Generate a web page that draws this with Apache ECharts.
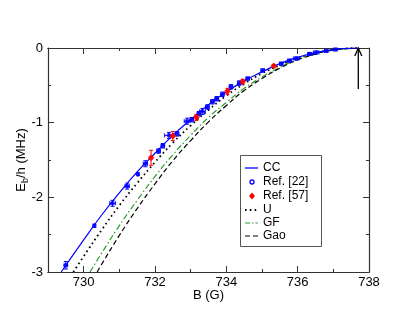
<!DOCTYPE html>
<html>
<head>
<meta charset="utf-8">
<script src="https://cdn.jsdelivr.net/npm/echarts@6/dist/echarts.min.js"></script>
<style>html,body{margin:0;padding:0;background:#fff}#c{width:415px;height:321px}</style>
</head>
<body>
<div id="c"></div>
<script>
// Curves (B in G, Eb/h in MHz)
const ccB  = [729.37,730.0,730.5,731.0,731.5,732.0,732.5,733.0,733.5,734.0,734.5,735.0,735.5,736.0,736.5,737.0,737.4,737.7];
const ccE  = [-3.00,-2.57,-2.24,-1.94,-1.66,-1.41,-1.17,-0.96,-0.76,-0.59,-0.44,-0.32,-0.21,-0.125,-0.062,-0.021,-0.004,0];
const uB   = [729.71,730.0,730.5,731.0,731.5,732.0,732.5,733.0,733.5,734.0,734.5,735.0,735.5,736.0,736.5,737.0,737.7];
const uE   = [-3.00,-2.79,-2.44,-2.11,-1.81,-1.53,-1.27,-1.04,-0.83,-0.64,-0.48,-0.34,-0.23,-0.136,-0.068,-0.023,0];
const gfB  = [730.18,730.5,731.0,731.5,732.0,732.5,733.0,733.5,734.0,734.5,735.0,735.5,736.0,736.5,737.0,737.7];
const gfE  = [-3.00,-2.75,-2.38,-2.04,-1.72,-1.43,-1.17,-0.93,-0.73,-0.54,-0.39,-0.26,-0.15,-0.076,-0.026,0];
const gaoB = [730.38,730.5,731.0,731.5,732.0,732.5,733.0,733.5,734.0,734.5,735.0,735.5,736.0,736.5,737.0,737.7];
const gaoE = [-3.00,-2.90,-2.51,-2.15,-1.82,-1.51,-1.24,-0.99,-0.77,-0.57,-0.41,-0.27,-0.16,-0.081,-0.027,0];

// Ref. [22] data
const blueB    = [729.5,730.3,730.81,731.22,731.52,731.73,732.1,732.22,732.39,732.62,732.9,733.03,733.23,733.33,733.47,733.61,733.73,733.89,734.13,734.36,734.6,735.02,735.54,735.77,735.96,736.33,736.52,736.8,737.06];
const blueE    = [-2.91,-2.38,-2.08,-1.85,-1.69,-1.55,-1.38,-1.31,-1.17,-1.15,-0.98,-0.96,-0.88,-0.85,-0.79,-0.72,-0.68,-0.62,-0.52,-0.47,-0.41,-0.30,-0.21,-0.17,-0.14,-0.08,-0.06,-0.04,-0.02];
const blueErrE = [0.05,0.02,0.04,0.04,0.02,0.04,0.03,0.03,0.04,0.03,0.04,0.03,0.03,0.04,0.03,0.03,0.03,0.03,0.03,0.03,0.02,0.02,0.02,0.02,0.02,0.02,0.02,0.01,0.01];
const blueErrB = [0.05,0.02,0.08,0.06,0.02,0.06,0.05,0.05,0.12,0.05,0.08,0.05,0.05,0.08,0.05,0.05,0.05,0.05,0.05,0.05,0.05,0.05,0.05,0.05,0.08,0.05,0.08,0.05,0.05];
// Ref. [57] data
const redB    = [731.89,732.5,733.16,734.03,734.46,735.33];
const redE    = [-1.47,-1.18,-0.93,-0.58,-0.45,-0.24];
const redErrE = [0.10,0.06,0.04,0.04,0.03,0.02];
const redErrB = [0.03,0.03,0.03,0.03,0.03,0.03];

// Resonance arrow
const arrowB = 737.7;
const arrowFrom = -0.55;

// Tick labels
const xMajor = [730,732,734,736,738];
const xMinor = [731,733,735,737];
const legendNames = ['CC','Ref. [22]','Ref. [57]','U','GF','Gao'];

const zip = (a,b) => a.map((v,i)=>[v,b[i]]);
const zip4 = (a,b,c,d) => a.map((v,i)=>[v,b[i],c[i],d[i]]);

function errRender(color){
  return function(params, api){
    const x = api.value(0), y = api.value(1), ey = api.value(2), ex = api.value(3);
    const top = api.coord([x, y+ey]), bot = api.coord([x, y-ey]);
    const lft = api.coord([x-ex, y]), rgt = api.coord([x+ex, y]);
    const c = 2;
    const st = {stroke: color, lineWidth: 1};
    return {type:'group', children:[
      {type:'line', shape:{x1:top[0],y1:top[1],x2:bot[0],y2:bot[1]}, style:st},
      {type:'line', shape:{x1:top[0]-c,y1:top[1],x2:top[0]+c,y2:top[1]}, style:st},
      {type:'line', shape:{x1:bot[0]-c,y1:bot[1],x2:bot[0]+c,y2:bot[1]}, style:st},
      {type:'line', shape:{x1:lft[0],y1:lft[1],x2:rgt[0],y2:rgt[1]}, style:st},
      {type:'line', shape:{x1:lft[0],y1:lft[1]-c,x2:lft[0],y2:lft[1]+c}, style:st},
      {type:'line', shape:{x1:rgt[0],y1:rgt[1]-c,x2:rgt[0],y2:rgt[1]+c}, style:st}
    ]};
  };
}

const axisLine = {show:true, onZero:false, lineStyle:{color:'#333', width:1.2}};
const FONT = 'Liberation Sans, Arial, sans-serif';
const GREEN = '#2a9d2a';

// Legend drawn as graphic (box + icons + text)
const LX = 240, LY = 155, LW = 81, LH = 91;
const rowY = [168,182,196,210,223,236];
const legendGraphic = [
  {type:'rect', shape:{x:LX+0.5,y:LY+0.5,width:LW,height:LH}, style:{fill:'#fff', stroke:'#555', lineWidth:1}, z:100},
  {type:'line', shape:{x1:245,y1:rowY[0],x2:258,y2:rowY[0]}, style:{stroke:'#0000ff', lineWidth:1.3}, z:101},
  {type:'circle', shape:{cx:252,cy:rowY[1],r:2}, style:{fill:'#fff', stroke:'#0000ff', lineWidth:1.3}, z:101},
  {type:'polygon', shape:{points:[[252,rowY[2]-3.5],[255,rowY[2]],[252,rowY[2]+3.5],[249,rowY[2]]]}, style:{fill:'#ff0000'}, z:101},
  {type:'line', shape:{x1:245,y1:rowY[3],x2:258,y2:rowY[3]}, style:{stroke:'#000', lineWidth:1.8, lineDash:[1.6,3.2]}, z:101},
  {type:'line', shape:{x1:245,y1:rowY[4],x2:258,y2:rowY[4]}, style:{stroke:GREEN, lineWidth:1.2, lineDash:[5,2,1.5,2]}, z:101},
  {type:'line', shape:{x1:245,y1:rowY[5],x2:258,y2:rowY[5]}, style:{stroke:'#000', lineWidth:1.2, lineDash:[5,3]}, z:101}
].concat(legendNames.map((n,i)=>({type:'text', x:263, y:rowY[i], z:101,
  style:{text:n, fill:'#000', font:'12px '+FONT, textVerticalAlign:'middle', verticalAlign:'middle'}})));

const chart = echarts.init(document.getElementById('c'), null, {renderer:'canvas'});
chart.setOption({
  animation:false,
  backgroundColor:'#fff',
  grid:{left:48, right:46, top:48, bottom:49},
  xAxis:[
    {type:'value', min:729, max:738, position:'bottom', axisLine,
     name:'B (G)', nameLocation:'middle', nameGap:17, nameMoveOverlap:false,
     nameTextStyle:{fontSize:13, color:'#000', fontFamily:FONT},
     axisTick:{show:true, inside:true, length:6, customValues:xMajor, lineStyle:{color:'#333'}},
     axisLabel:{show:true, customValues:xMajor, fontSize:13, color:'#000', margin:4, fontFamily:FONT},
     splitLine:{show:false}},
    {type:'value', min:729, max:738, position:'bottom', axisLine,
     axisTick:{show:true, inside:true, length:3, customValues:xMinor, lineStyle:{color:'#333'}},
     axisLabel:{show:false}, splitLine:{show:false}},
    {type:'value', min:729, max:738, position:'top', axisLine,
     axisTick:{show:true, inside:true, length:6, customValues:xMajor, lineStyle:{color:'#333'}},
     axisLabel:{show:false}, splitLine:{show:false}},
    {type:'value', min:729, max:738, position:'top', axisLine,
     axisTick:{show:true, inside:true, length:3, customValues:xMinor, lineStyle:{color:'#333'}},
     axisLabel:{show:false}, splitLine:{show:false}}
  ],
  yAxis:[
    {type:'value', min:-3, max:0, interval:1, position:'left', axisLine,
     name:'{a|E}{s|b}{a|/h (MHz)}', nameLocation:'middle', nameGap:18, nameRotate:90, nameMoveOverlap:false,
     nameTextStyle:{color:'#000', fontFamily:FONT, rich:{
       a:{fontSize:13, color:'#000', fontFamily:FONT, lineHeight:18, verticalAlign:'middle'},
       s:{fontSize:9, color:'#000', fontFamily:FONT, lineHeight:18, verticalAlign:'bottom'}}},
     axisTick:{show:true, inside:true, length:6, lineStyle:{color:'#333'}},
     minorTick:{show:true, splitNumber:2, length:3, lineStyle:{color:'#333'}},
     axisLabel:{fontSize:13, color:'#000', margin:5, fontFamily:FONT},
     splitLine:{show:false}, minorSplitLine:{show:false}},
    {type:'value', min:-3, max:0, interval:1, position:'right', axisLine,
     axisTick:{show:true, inside:true, length:6, lineStyle:{color:'#333'}},
     minorTick:{show:true, splitNumber:2, length:3, lineStyle:{color:'#333'}},
     axisLabel:{show:false}, splitLine:{show:false}, minorSplitLine:{show:false}}
  ],
  graphic: legendGraphic,
  series:[
    {name:'U', type:'line', data:zip(uB,uE), showSymbol:false, symbol:'none', smooth:true,
     lineStyle:{color:'#000', width:1.8, type:[1.6,3.2]}, z:2},
    {name:'GF', type:'line', data:zip(gfB,gfE), showSymbol:false, symbol:'none', smooth:true,
     lineStyle:{color:GREEN, width:1.2, type:[6,2.5,1.5,2.5]}, z:2},
    {name:'Gao', type:'line', data:zip(gaoB,gaoE), showSymbol:false, symbol:'none', smooth:true,
     lineStyle:{color:'#000', width:1.2, type:[5,3]}, z:2},
    {name:'CC', type:'line', data:zip(ccB,ccE), showSymbol:false, symbol:'none', smooth:true,
     lineStyle:{color:'#0000ff', width:1.2}, z:3},
    {name:'errBlue', type:'custom', renderItem:errRender('#0000ff'), data:zip4(blueB,blueE,blueErrE,blueErrB), z:4, silent:true},
    {name:'errRed', type:'custom', renderItem:errRender('#ff0000'), data:zip4(redB,redE,redErrE,redErrB), z:5, silent:true},
    {name:'Ref. [22]', type:'scatter', data:zip(blueB,blueE), symbol:'circle', symbolSize:4.5,
     itemStyle:{color:'#0000ff'}, z:4},
    {name:'Ref. [57]', type:'scatter', data:zip(redB,redE), symbol:'diamond', symbolSize:7,
     itemStyle:{color:'#ff0000'}, z:5},
    {name:'arrow', type:'custom', data:[[arrowB, arrowFrom]], z:6, silent:true,
     renderItem:function(params, api){
       const p0 = api.coord([api.value(0), api.value(1)]);
       const p1 = api.coord([api.value(0), 0]);
       const st = {stroke:'#000', lineWidth:1.3, fill:null};
       return {type:'group', children:[
         {type:'line', shape:{x1:p0[0],y1:p0[1],x2:p1[0],y2:p1[1]}, style:st},
         {type:'polyline', shape:{points:[[p1[0]-3.5,p1[1]+8],[p1[0],p1[1]],[p1[0]+3.5,p1[1]+8]]}, style:st}
       ]};
     }}
  ]
});
</script>
</body>
</html>
